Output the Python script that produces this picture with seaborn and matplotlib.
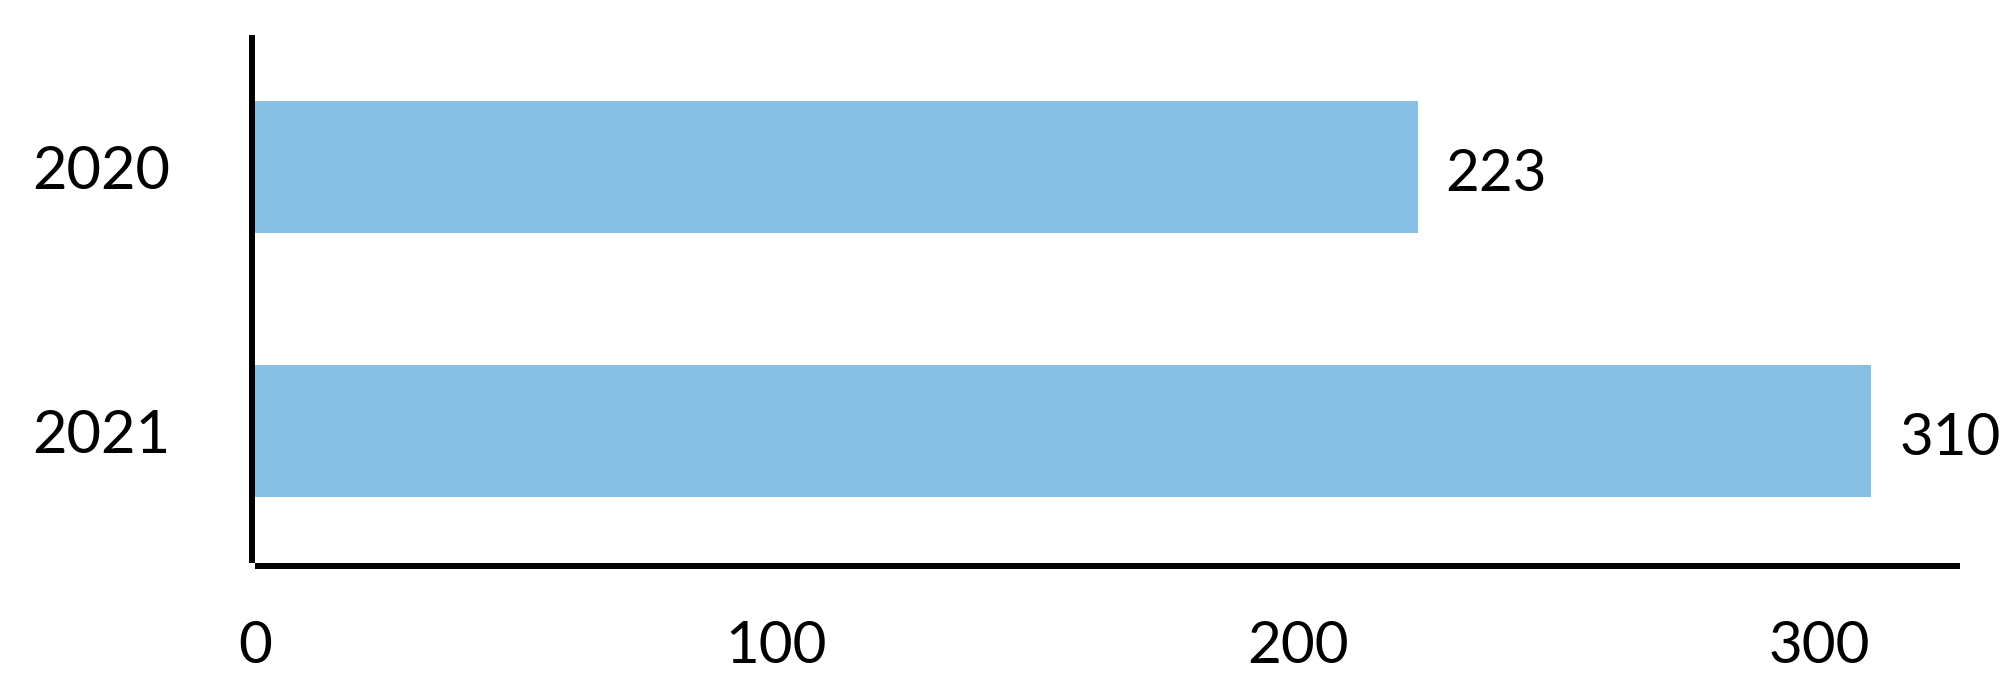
import matplotlib
matplotlib.use("Agg")
import matplotlib.pyplot as plt
import seaborn as sns
import pandas as pd

categories = ["2020", "2021"]
values = [223, 310]
x_ticks = [0, 100, 200, 300]
x_tick_labels = ["0", "100", "200", "300"]

sns.set_theme(style="white")
plt.rcParams["font.family"] = ["Lato", "DejaVu Sans"]

df = pd.DataFrame({"year": categories, "value": values})

fig = plt.figure(figsize=(20.08, 6.74), dpi=100)
ax = fig.add_axes([0.12699, 0.16469, 0.84910, 0.78338])

sns.barplot(data=df, x="value", y="year", orient="h", color="#86c0e4",
            saturation=1, width=0.5, linewidth=0, ax=ax)

ax.set_xlim(0, 327)
ax.set_ylim(1.5, -0.5)
ax.set_xticks(x_ticks)
ax.set_xticklabels(x_tick_labels)
ax.set_xlabel("")
ax.set_ylabel("")

for side in ["top", "right"]:
    ax.spines[side].set_visible(False)
for side in ["left", "bottom"]:
    sp = ax.spines[side]
    sp.set_visible(True)
    sp.set_color("black")
    sp.set_linewidth(4.32)
    sp.set_capstyle("butt")
    sp.set_position(("outward", 2.16))

ax.tick_params(axis="y", length=0, pad=59, labelsize=43, labelcolor="black")
ax.tick_params(axis="x", length=0, pad=39, labelsize=42, labelcolor="black")

for i, v in enumerate(values):
    ax.annotate(str(v), xy=(v, i), xytext=(20, -17.5), textcoords="offset points",
                ha="left", va="baseline", fontsize=42, color="black")

fig.savefig("out.png", dpi=100, facecolor="white")
